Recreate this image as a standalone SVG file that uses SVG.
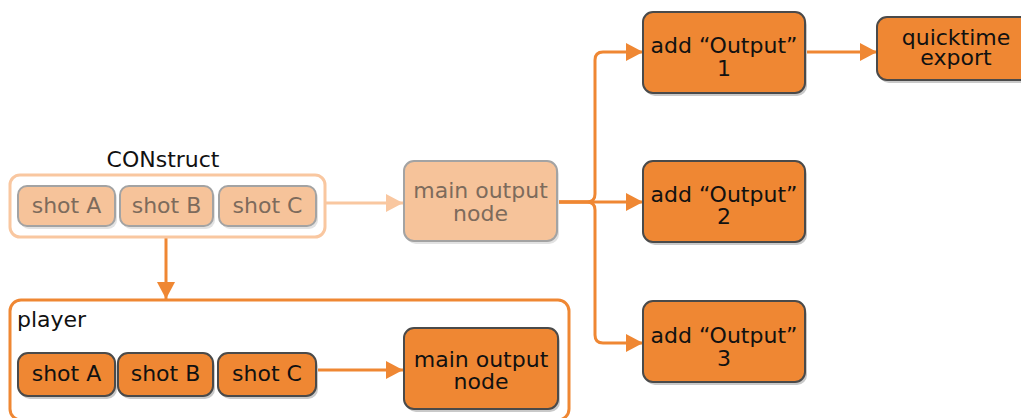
<svg xmlns="http://www.w3.org/2000/svg" width="1021" height="418" viewBox="0 0 1021 418">
<defs>
<style>
text{font-family:"DejaVu Sans","Verdana",sans-serif;font-size:22px;}
.lbl{fill:#111;}
.c{text-anchor:middle;}
.dark{fill:#ef8733;stroke:#4a4a4a;stroke-width:2;}
.lite{fill:#f6c39a;stroke:#a3a3a3;stroke-width:2;}
.sh{fill:#c9c9c9;}
.shl{fill:#e2e2e2;}
.tl{fill:#7d6b5c;}
.td{fill:#111;}
.conn{fill:none;stroke:#ef8733;stroke-width:3;}
.connl{fill:none;stroke:#f9c7a0;stroke-width:3;}
</style>
<marker id="ah" markerUnits="userSpaceOnUse" markerWidth="18" markerHeight="18" refX="17" refY="9" orient="auto">
<path d="M0,0 L17,9 L0,18 z" fill="#ef8733"/>
</marker>
<marker id="ahl" markerUnits="userSpaceOnUse" markerWidth="18" markerHeight="18" refX="17" refY="9" orient="auto">
<path d="M0,0 L17,9 L0,18 z" fill="#f9c7a0"/>
</marker>
</defs>
<rect width="1021" height="418" fill="#ffffff"/>

<g id="connectors">
<path class="connl" d="M325,203 H403" marker-end="url(#ahl)"/>
<path class="conn" d="M166,237 V299" marker-end="url(#ah)"/>
<path class="conn" d="M557,202 H587 Q595,202 595,194 V60 Q595,52 603,52 H643" marker-end="url(#ah)"/>
<path class="conn" d="M557,202 H643" marker-end="url(#ah)"/>
<path class="conn" d="M557,202 H587 Q595,202 595,210 V335 Q595,343 603,343 H643" marker-end="url(#ah)"/>
<path class="conn" d="M805,52 H877" marker-end="url(#ah)"/>
<path class="conn" d="M316,370 H403" marker-end="url(#ah)"/>
</g>

<g id="construct">
<rect x="10" y="175" width="315" height="62" rx="10" fill="none" stroke="#f9c7a0" stroke-width="3"/>
<text class="td c" x="163" y="167">CONstruct</text>
</g>
<g id="c-shotA">
<rect class="shl" x="20" y="189" width="97" height="40" rx="9"/>
<rect class="lite" x="18" y="186" width="97" height="40" rx="9"/>
<text class="tl c" x="66.5" y="213">shot A</text>
</g>
<g id="c-shotB">
<rect class="shl" x="122" y="189" width="93" height="40" rx="9"/>
<rect class="lite" x="120" y="186" width="93" height="40" rx="9"/>
<text class="tl c" x="166.5" y="213">shot B</text>
</g>
<g id="c-shotC">
<rect class="shl" x="221" y="189" width="97" height="40" rx="9"/>
<rect class="lite" x="219" y="186" width="97" height="40" rx="9"/>
<text class="tl c" x="267.5" y="213">shot C</text>
</g>
<g id="main-output-top">
<rect class="shl" x="406" y="164" width="153" height="80" rx="10"/>
<rect class="lite" x="404" y="161" width="153" height="80" rx="10"/>
<text class="tl c" x="480.5" y="198">main output</text>
<text class="tl c" x="480.5" y="221">node</text>
</g>

<g id="output1">
<rect class="sh" x="645" y="15" width="162" height="81" rx="10"/>
<rect class="dark" x="643" y="12" width="162" height="81" rx="10"/>
<text class="td c" x="724" y="53">add “Output”</text>
<text class="td c" x="724" y="76">1</text>
</g>
<g id="output2">
<rect class="sh" x="645" y="164" width="162" height="81" rx="10"/>
<rect class="dark" x="643" y="161" width="162" height="81" rx="10"/>
<text class="td c" x="724" y="202">add “Output”</text>
<text class="td c" x="724" y="224">2</text>
</g>
<g id="output3">
<rect class="sh" x="645" y="304" width="162" height="81" rx="10"/>
<rect class="dark" x="643" y="301" width="162" height="81" rx="10"/>
<text class="td c" x="724" y="343">add “Output”</text>
<text class="td c" x="724" y="366">3</text>
</g>
<g id="quicktime">
<rect class="sh" x="879" y="20" width="160" height="63" rx="10"/>
<rect class="dark" x="877" y="17" width="160" height="63" rx="10"/>
<text class="td c" x="956" y="45">quicktime</text>
<text class="td c" x="956" y="65">export</text>
</g>

<g id="player">
<rect x="10" y="300" width="559" height="120" rx="11" fill="none" stroke="#ef8733" stroke-width="3"/>
<text class="td" x="17" y="327">player</text>
</g>
<g id="p-shotA">
<rect class="sh" x="20" y="356" width="97" height="43" rx="10"/>
<rect class="dark" x="18" y="353" width="97" height="43" rx="10"/>
<text class="td c" x="66.5" y="381">shot A</text>
</g>
<g id="p-shotB">
<rect class="sh" x="120" y="356" width="95" height="43" rx="10"/>
<rect class="dark" x="118" y="353" width="95" height="43" rx="10"/>
<text class="td c" x="165.5" y="381">shot B</text>
</g>
<g id="p-shotC">
<rect class="sh" x="220" y="356" width="98" height="43" rx="10"/>
<rect class="dark" x="218" y="353" width="98" height="43" rx="10"/>
<text class="td c" x="267" y="381">shot C</text>
</g>
<g id="main-output-bottom">
<rect class="sh" x="406" y="331" width="154" height="81" rx="10"/>
<rect class="dark" x="404" y="328" width="154" height="81" rx="10"/>
<text class="td c" x="481" y="367">main output</text>
<text class="td c" x="481" y="389">node</text>
</g>
</svg>
